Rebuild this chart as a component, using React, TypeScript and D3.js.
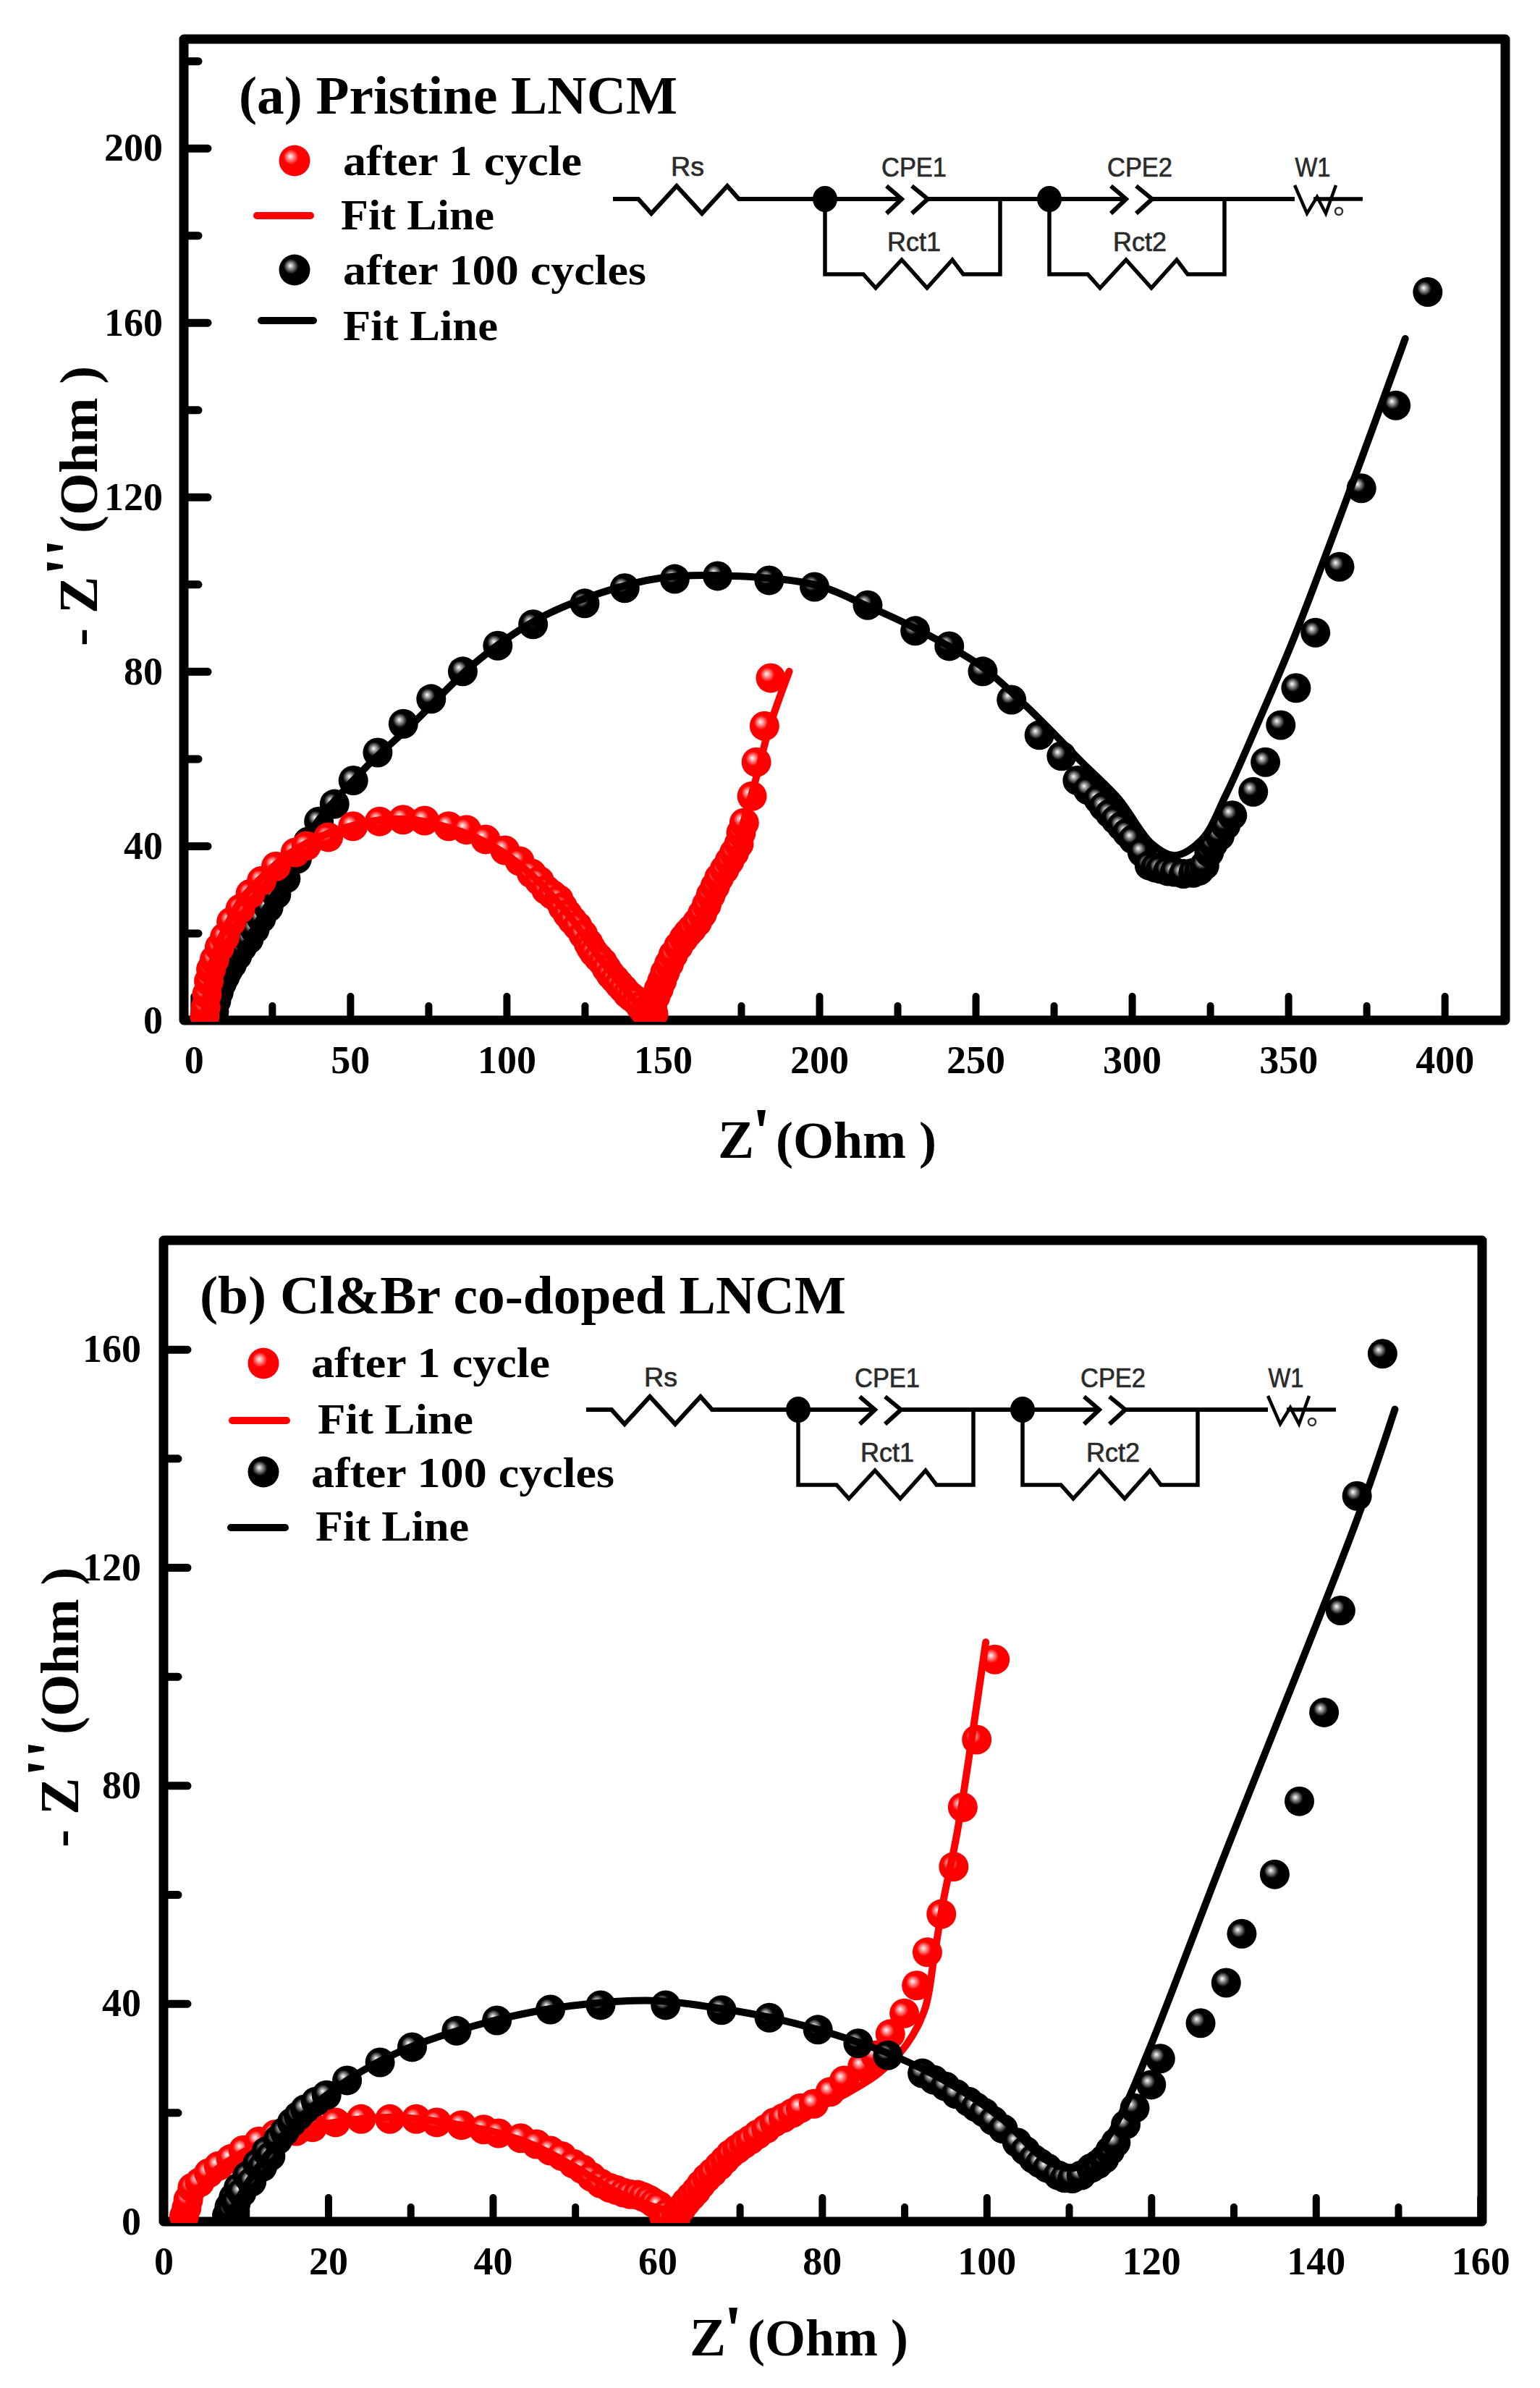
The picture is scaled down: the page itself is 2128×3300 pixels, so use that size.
import React, { useRef, useEffect } from "react";
import * as d3 from "d3";

type Pt = [number, number];

const seriesNames = ["after 1 cycle", "Fit Line", "after 100 cycles", "Fit Line"];

// panel (a) pristine
const aRedPoints: Pt[] = [
  [3.5, 1], [3.8, 3], [4.2, 6], [4.8, 9], [5.5, 11.7], [6.6, 13.9], [8.2, 16.7], [9.9, 19.1], [12, 22.6], [14.9, 25.6],
  [18.1, 29], [21.7, 32], [26.3, 35.3], [32.5, 38.5], [36, 40], [43, 42], [50.9, 44.5], [59.4, 45.6],
  [66.9, 46], [73.8, 45.8], [81.5, 44.5], [87.2, 43.7], [93.3, 41.5], [99.5, 39], [104.2, 36.5], [108, 33.7], [110.5, 32],
  [112.7, 29.9], [114.7, 28.8], [116.7, 27.7], [118, 26], [119.5, 24.4], [121, 23], [122.7, 21.6], [124.5, 19.7], [126.2, 17.7],
  [127, 16.6], [128, 15.5], [129.4, 14.4], [130.8, 13.3], [132, 11.9], [133.3, 10.5], [134.7, 9.4], [136, 8.3], [137.4, 7.2],
  [138.7, 6.1], [140, 5.3], [141.5, 4.5], [142.8, 3.3], [144, 2.2], [145, 1.5], [146, 1.2], [147, 1.5], [146.7, 3.8], [147.7, 5.5],
  [148.7, 7.2], [149.7, 9], [150.7, 11], [152, 13], [153.3, 15], [155, 17], [156.7, 18.8], [158, 20], [159.3, 21], [161, 22.5],
  [162.6, 24.4], [164, 26.5], [165.3, 28.7], [166.7, 30.7], [168, 32.7], [169.7, 34.6], [171.3, 36.5], [172.8, 38.4], [174.3, 40.4],
  [175, 43], [176, 45.3], [178.5, 51.4], [179.9, 59.2], [182.5, 67.5], [184.5, 78.5],
];
const aRedFit: Pt[] = [
  [3, 0], [4.5, 9], [7, 16], [10, 21], [15, 27.5], [22, 33], [30, 38], [40, 42], [50, 44.5], [60, 46], [70, 46],
  [80, 44.5], [90, 42], [100, 38], [110, 32], [120, 24], [130, 14], [138, 7], [143, 3], [146, 1], [148, 3], [152, 10],
  [158, 19], [165, 28], [172, 37], [176, 46], [180, 56], [184, 67], [190.4, 80],
];
const aBlackPoints: Pt[] = [
  [6, 0.5], [6.5, 2], [7.2, 4.5], [8, 6.5], [9, 8.5], [10, 10], [11, 11.5], [12.2, 12.8], [13.9, 14.8], [15.5, 16.8], [17.6, 18.6],
  [19.5, 20.9], [21.6, 23.4], [23.9, 25.9], [26.4, 28.9], [29.4, 32.5], [33, 37], [36.6, 41], [40, 45.6], [45, 49.6],
  [51, 55], [58.8, 61.4], [67, 68], [75.9, 73.7], [86, 80], [97.2, 85.9], [108.5, 90.8], [125, 95.6], [137.8, 99.1],
  [153.8, 101.2], [167.5, 101.9], [184, 100.9], [198.5, 99.4], [215.5, 95.2], [230.7, 89.3], [241.6, 85.8],
  [252.3, 80], [261.5, 73.5], [270.4, 65.4], [277.5, 60.6], [282.6, 55], [286, 52.8], [289.3, 50.7], [291, 49], [293, 47.4], [294.8, 46],
  [296.7, 44.5], [298.5, 43], [300.4, 41.5], [303.3, 38.5], [305.6, 35.5], [307.5, 35], [309.2, 34.7], [311.5, 34.2], [313.7, 34],
  [316.5, 33.6], [319.6, 33.8], [321.5, 34.3], [323.2, 35.5], [324.7, 38.5], [326, 40.5], [328.1, 42.3], [330, 44.7], [332.1, 47],
  [338.8, 52.4], [342.7, 59.2], [347.6, 67.7], [352.5, 76.2], [358.7, 88.9], [366.4, 104], [373.4, 122], [384.4, 141], [394.6, 167],
];
const aBlackFit: Pt[] = [
  [7, 0], [8, 2], [12, 11], [20, 22], [30, 34], [40, 46], [55, 58], [70, 68], [90, 82], [110, 92], [130, 98],
  [150, 101.5], [168, 102], [198.5, 99.9], [214.8, 95.2], [231, 89.8], [251.6, 81.3], [266.4, 71.9], [284, 59.2],
  [295.9, 50.7], [306.3, 40.5], [313.7, 37.8], [322.4, 41.5], [330, 51.6], [340, 67.7], [352, 88], [372, 126], [387.4, 156.3],
];

// panel (b) Cl&Br co-doped
const bRedPoints: Pt[] = [
  [2.5, 1], [2.8, 2.5], [3, 4], [3.5, 6.2], [4.4, 7.2], [5.5, 8.9], [6.7, 10.2], [8.2, 11.5], [9.7, 13.1], [11.6, 14.7], [13.6, 16], [16.1, 16.6],
  [18.1, 17.3], [20.9, 18.2], [24, 18.8], [27.5, 18.8], [30.7, 18.8], [33.2, 18.2], [36.2, 17.7], [38.9, 16.9], [40.7, 16.2],
  [43.4, 15.3], [45.3, 14.2], [47, 13], [48.4, 12], [49.8, 10.6], [50.9, 9.6], [52, 8.2], [53.1, 7], [54.2, 6.2], [55, 5.8], [55.9, 5.3], [56.7, 5],
  [57.6, 4.9], [58.3, 4.5], [59, 4], [59.6, 3.4], [60.2, 2.9], [60.8, 1], [61.3, 1.6], [61.5, 0.5], [62.2, 0.5], [62.4, 1.7], [63, 2.6], [63.5, 3.6],
  [64.1, 4.6], [64.7, 5.6], [65.3, 6.8], [66, 8], [66.7, 9], [67.5, 10.2], [68.2, 11.3], [68.9, 12.4], [69.7, 13.3],
  [70.5, 14.2], [71.3, 15], [72.2, 16], [73.2, 17], [74.2, 18.2], [75.3, 19], [76.4, 19.9], [77.4, 20.8], [79, 21.6], [81, 23.8], [82.7, 25.9], [84.9, 28.4], [86.5, 30.5],
  [88.3, 34.4], [90, 38.2], [91.5, 43.3], [92.8, 49.4], [94.5, 56.4], [96, 65.1], [97.1, 76], [98.8, 88.4], [101, 103.1],
];
const bRedFit: Pt[] = [
  [2.2, 0], [3.5, 4.5], [6, 9], [10, 13], [15, 16.5], [20, 18], [25, 19], [30, 19], [35, 18], [40, 16.5], [45, 14], [50, 10],
  [55, 5.5], [60, 2.5], [62, 2], [65, 6], [70, 13], [76.8, 18.7], [82.4, 23], [86.9, 27.2], [90.2, 32.3], [92.5, 39],
  [93.6, 48.3], [94.7, 58.5], [96.4, 71.2], [98.4, 90.7], [99.9, 106.3],
];
const bBlackPoints: Pt[] = [
  [7.7, 1.1], [7.9, 0.5], [8, 2.7], [8.2, 2], [8.5, 4.4], [8.8, 3.5], [9.1, 6.2], [9.5, 5.3], [10.2, 8.4], [10.7, 7.3], [11.4, 10.6], [12, 10], [12.5, 12.9], [13, 12],
  [13.9, 15], [14.7, 16.5], [15.6, 18.2], [16.4, 19.4], [17.2, 20.6], [18.5, 22],
  [19.8, 23.2], [22.3, 25.9], [26.3, 29.2], [30.2, 32], [35.6, 35], [40.5, 36.9], [47, 38.9], [53.1, 39.7], [61, 39.7],
  [67.8, 38.8], [73.6, 37.4], [79.5, 35.2], [84.4, 32.7], [88, 30.5], [92.2, 27.2], [93.6, 26], [95, 24.8], [96.3, 23.4], [97.8, 22], [98.7, 21], [99.7, 20], [100.8, 18.5],
  [102, 17], [103.7, 14.5], [104.7, 13], [105.7, 11.5], [106.5, 10.7], [107.4, 9.8], [108.7, 8.5], [109.5, 8], [110.4, 7.9], [111.5, 8.5], [112.7, 9.8], [113.5, 10.5], [114.3, 11.5], [115, 13],
  [115.7, 14.5], [116.9, 17.8], [118, 20.8], [120, 25.1], [121.1, 29.9], [126, 36.4], [129.1, 43.8], [131, 52.8], [135, 63.7],
  [138, 77.1], [141, 93.4], [143, 112.1], [145, 133.1], [148.1, 159.2],
];
const bBlackFit: Pt[] = [
  [7.5, 0], [9, 4], [11, 9], [14, 15], [18, 21], [24, 27.5], [30, 32], [38, 36], [45, 38.5], [52, 40], [60, 40.5], [68, 39],
  [75, 37], [81.3, 34.4], [88.6, 30.5], [95.3, 25.5], [102, 18.7], [107, 11.5], [110.4, 9.8], [112.7, 11.5], [116, 18.7],
  [119.7, 31.4], [128.4, 65.3], [145, 128.8], [149.6, 149],
];

const xMajorA = [0, 50, 100, 150, 200, 250, 300, 350, 400];
const xMinorA = [25, 75, 125, 175, 225, 275, 325, 375];
const yMajorA = [0, 40, 80, 120, 160, 200];
const yMinorA = [20, 60, 100, 140, 180, 220];
const xMajorB = [0, 20, 40, 60, 80, 100, 120, 140, 160];
const xMinorB = [10, 30, 50, 70, 90, 110, 130, 150];
const yMajorB = [0, 40, 80, 120, 160];
const yMinorB = [20, 60, 100, 140];

const SERIF = "'Liberation Serif', 'Times New Roman', serif";
const SANS = "'Liberation Sans', Arial, sans-serif";

const panels = [
  {
    id: "a", title: "(a) Pristine LNCM", titleX: 330, titleY: 157, titleW: 606,
    left: 254, right: 2080, top: 54, bottom: 1410, yPad: 29,
    xDomain: [-3.2, 419.4], yDomain: [0, 225],
    xMajor: xMajorA, xMinor: xMinorA, yMajor: yMajorA, yMinor: yMinorA,
    red: aRedPoints, redFit: aRedFit, black: aBlackPoints, blackFit: aBlackFit, redOnTop: true,
    legendX: [474, 471, 474, 474], legendY: [242, 317, 393, 470], legendW: [330, 212, 419, 214], ballX: 407, ballY: [222, 373],
    redLine: [355, 429, 298], blackLine: [361, 433, 443],
    xLabel: [992, 1600], yLabel: [134, 893], dx: 0, dy: 0,
  },
  {
    id: "b", title: "(b) Cl&Br co-doped LNCM", titleX: 276, titleY: 1815, titleW: 893,
    left: 226, right: 2048, top: 1714, bottom: 3070, yPad: 31,
    xDomain: [0, 160.2], yDomain: [0, 180],
    xMajor: xMajorB, xMinor: xMinorB, yMajor: yMajorB, yMinor: yMinorB,
    red: bRedPoints, redFit: bRedFit, black: bBlackPoints, blackFit: bBlackFit, redOnTop: false,
    legendX: [430, 439, 430, 436], legendY: [1903, 1981, 2055, 2129], legendW: [330, 215, 419, 212], ballX: 364, ballY: [1884, 2034],
    redLine: [321, 396, 1963], blackLine: [319, 394, 2111],
    xLabel: [953, 3255], yLabel: [108, 2553], dx: -37, dy: 1673,
  },
];

// the equivalent circuit inset, same drawing in both panels
const drawCircuit = (svg: any, dx: number, dy: number) => {
  const g = svg.append("g").attr("transform", `translate(${dx},${dy})`);
  const line = d3.line();
  const wire = (pts: Pt[], w = 6) =>
    g.append("path").attr("d", line(pts)).attr("fill", "none").attr("stroke", "#000")
      .attr("stroke-width", w).attr("stroke-linejoin", "miter");

  wire([[847, 275], [882, 275], [900, 295], [935, 257], [970, 295], [1005, 257], [1021, 275], [1140, 275]]);
  [0, 310].forEach((o) => {
    wire([[1140 + o, 275], [1246 + o, 275]]);
    wire([[1225 + o, 257], [1246 + o, 275], [1225 + o, 295]]);
    wire([[1260 + o, 257], [1282 + o, 275], [1260 + o, 295]]);
    wire([[1282 + o, 275], [o === 0 ? 1450 : 1789, 275]]);
    wire([[1140 + o, 275], [1140 + o, 379], [1193 + o, 379], [1210 + o, 398], [1246 + o, 359], [1281 + o, 398],
      [1316 + o, 359], [1331 + o, 379], [1382 + o, 379], [1382 + o, 275]], 5.5);
    g.append("ellipse").attr("cx", 1140 + o).attr("cy", 275).attr("rx", 17).attr("ry", 18).attr("fill", "#000");
  });
  wire([[1789, 256], [1806, 295], [1820, 272], [1832, 295], [1846, 256]], 4.5);
  wire([[1815, 275], [1883, 275]], 5.5);
  g.append("circle").attr("cx", 1850).attr("cy", 292).attr("r", 5).attr("fill", "#fff").attr("stroke", "#333").attr("stroke-width", 2.5);

  const labels: [string, number, number, number][] = [
    ["Rs", 950, 243, 46], ["CPE1", 1263, 244, 90], ["Rct1", 1263, 347, 74], ["CPE2", 1575, 244, 90], ["Rct2", 1575, 347, 74], ["W1", 1814, 244, 49],
  ];
  labels.forEach(([t, x, y, w]) => {
    g.append("text").attr("x", x).attr("y", y).attr("text-anchor", "middle")
      .attr("font-family", SANS).attr("font-size", 36).attr("fill", "#2a2a2a").attr("stroke", "#2a2a2a").attr("stroke-width", 0.7)
      .attr("textLength", w).attr("lengthAdjust", "spacingAndGlyphs").text(t);
  });
};

const App = () => {
  const ref = useRef<SVGSVGElement>(null);

  useEffect(() => {
    const svg = d3.select(ref.current);
    svg.selectAll("*").remove();

    const defs = svg.append("defs");
    [["ballRed", "#ff0000", "#ffb4b4"], ["ballBlack", "#000000", "#b8b8b8"]].forEach(([id, c, mid]) => {
      const grad = defs.append("radialGradient").attr("id", id)
        .attr("cx", 0.42).attr("cy", 0.42).attr("r", 0.55).attr("fx", 0.36).attr("fy", 0.36);
      grad.append("stop").attr("offset", 0).attr("stop-color", "#ffffff");
      grad.append("stop").attr("offset", 0.12).attr("stop-color", mid);
      grad.append("stop").attr("offset", 0.44).attr("stop-color", c);
      grad.append("stop").attr("offset", 1).attr("stop-color", c);
    });

    panels.forEach((p) => {
      const x = d3.scaleLinear().domain(p.xDomain).range([p.left, p.right]);
      const y = d3.scaleLinear().domain(p.yDomain).range([p.bottom, p.top]);

      defs.append("clipPath").attr("id", `clip-${p.id}`).append("rect")
        .attr("x", p.left + 6).attr("y", p.top).attr("width", p.right - p.left - 6).attr("height", p.bottom - p.top + 2);

      const styleAxis = (g: any, w: number) => {
        g.select(".domain").remove();
        g.selectAll(".tick line").attr("stroke", "#000").attr("stroke-width", w).attr("stroke-linecap", "round");
        g.selectAll(".tick text").attr("font-family", SERIF).attr("font-weight", 700).attr("font-size", 54).attr("fill", "#000");
      };

      svg.append("g").attr("transform", `translate(0,${p.bottom})`)
        .call(d3.axisBottom(x).tickValues(p.xMajor).tickSize(-33).tickPadding(35))
        .call(styleAxis, 10);
      svg.append("g").attr("transform", `translate(0,${p.bottom})`)
        .call(d3.axisBottom(x).tickValues(p.xMinor).tickSize(-20).tickFormat(() => ""))
        .call(styleAxis, 10);
      svg.append("g").attr("transform", `translate(${p.left},0)`)
        .call(d3.axisLeft(y).tickValues(p.yMajor).tickSize(-33).tickPadding(p.yPad))
        .call(styleAxis, 11);
      svg.append("g").attr("transform", `translate(${p.left},0)`)
        .call(d3.axisLeft(y).tickValues(p.yMinor).tickSize(-20).tickFormat(() => ""))
        .call(styleAxis, 11);

      svg.append("rect").attr("x", p.left).attr("y", p.top)
        .attr("width", p.right - p.left).attr("height", p.bottom - p.top)
        .attr("fill", "none").attr("stroke", "#000").attr("stroke-width", 13).attr("stroke-linejoin", "round");

      const plot = svg.append("g").attr("clip-path", `url(#clip-${p.id})`);
      const line = d3.line<Pt>().x((d) => x(d[0])).y((d) => y(d[1])).curve(d3.curveCatmullRom.alpha(0.5));

      const dots = (data: Pt[], fill: string) => {
        plot.append("g").selectAll("circle").data(data).join("circle")
          .attr("cx", (d) => x(d[0])).attr("cy", (d) => y(d[1])).attr("r", 20.5).attr("fill", fill);
      };
      const fit = (data: Pt[], color: string) => {
        plot.append("path").datum(data).attr("d", line).attr("fill", "none")
          .attr("stroke", color).attr("stroke-width", 10).attr("stroke-linecap", "round");
      };
      const drawRed = () => { dots(p.red, "url(#ballRed)"); fit(p.redFit, "#ff0000"); };
      const drawBlack = () => { dots(p.black, "url(#ballBlack)"); fit(p.blackFit, "#000000"); };
      if (p.redOnTop) { drawBlack(); drawRed(); } else { drawRed(); drawBlack(); }

      // title
      svg.append("text").attr("x", p.titleX).attr("y", p.titleY).attr("font-family", SERIF).attr("font-weight", 700)
        .attr("font-size", 73).attr("textLength", p.titleW).attr("lengthAdjust", "spacingAndGlyphs").text(p.title);

      // legend
      seriesNames.forEach((name, i) => {
        svg.append("text").attr("x", p.legendX[i]).attr("y", p.legendY[i]).attr("font-family", SERIF).attr("font-weight", 700)
          .attr("font-size", 59).attr("textLength", p.legendW[i]).attr("lengthAdjust", "spacingAndGlyphs").text(name);
      });
      svg.append("circle").attr("cx", p.ballX).attr("cy", p.ballY[0]).attr("r", 21.5).attr("fill", "url(#ballRed)");
      svg.append("circle").attr("cx", p.ballX).attr("cy", p.ballY[1]).attr("r", 21.5).attr("fill", "url(#ballBlack)");
      [[p.redLine, "#ff0000"], [p.blackLine, "#000000"]].forEach(([l, c]: any) => {
        svg.append("line").attr("x1", l[0]).attr("x2", l[1]).attr("y1", l[2]).attr("y2", l[2])
          .attr("stroke", c).attr("stroke-width", 10).attr("stroke-linecap", "round");
      });

      // axis titles, pieces placed by hand because the primes are oversized
      const piece = (parent: any, t: string, px: number, py: number, size: number) =>
        parent.append("text").attr("x", px).attr("y", py).attr("font-family", SERIF).attr("font-weight", 700)
          .attr("font-size", size).text(t);

      const xt = svg.append("g").attr("transform", `translate(${p.xLabel[0]},${p.xLabel[1]})`);
      piece(xt, "Z", 0, 0, 75);
      piece(xt, "'", 47, -5, 94);
      piece(xt, "(Ohm )", 80, 0, 72);

      const yt = svg.append("g").attr("transform", `translate(${p.yLabel[0]},${p.yLabel[1]}) rotate(-90)`);
      piece(yt, "-", 0, 0, 75);
      piece(yt, "Z", 45, 0, 77);
      piece(yt, "'", 97, -8, 94);
      piece(yt, "'", 123, -8, 94);
      piece(yt, "(Ohm )", 156, 0, 75);

      drawCircuit(svg, p.dx, p.dy);
    });
  }, []);

  return (
    <svg ref={ref} width={2128} height={3300} style={{ position: "absolute", left: 0, top: 0, background: "#fff" }} />
  );
};

export default App;
